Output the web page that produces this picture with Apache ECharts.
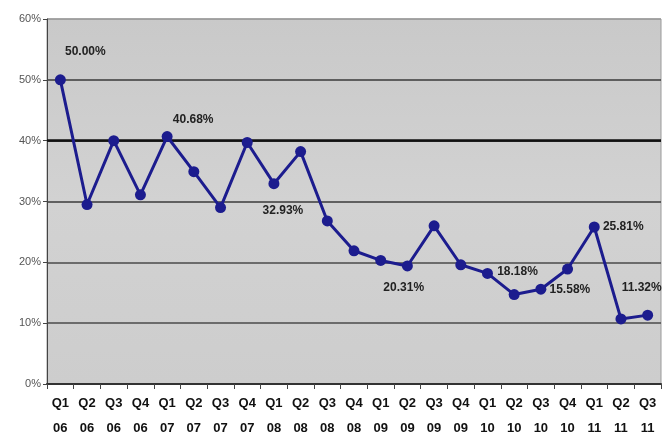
<!DOCTYPE html>
<html><head><meta charset="utf-8">
<script src="https://cdn.jsdelivr.net/npm/echarts@6/dist/echarts.min.js"></script>
<style>html,body{margin:0;padding:0;background:#fff}#c{width:664px;height:436px}</style>
</head><body><div id="c"></div>
<script>
const quarters = ['Q1','Q2','Q3','Q4','Q1','Q2','Q3','Q4','Q1','Q2','Q3','Q4','Q1','Q2','Q3','Q4','Q1','Q2','Q3','Q4','Q1','Q2','Q3'];
const years = ['06','06','06','06','07','07','07','07','08','08','08','08','09','09','09','09','10','10','10','10','11','11','11'];
const categories = quarters.map((q, i) => q + '\n' + years[i]);
const rates = [50.00, 29.5, 40.0, 31.1, 40.68, 34.9, 29.0, 39.7, 32.93, 38.2, 26.8, 21.9, 20.31, 19.4, 26.0, 19.6, 18.18, 14.7, 15.58, 18.9, 25.81, 10.7, 11.32];
const yTicks = [0, 10, 20, 30, 40, 50, 60];
const labelledPoints = [0, 4, 8, 12, 16, 18, 20, 22];

const offsets = {0:[25,-28], 4:[26,-17], 8:[9,27], 12:[23,27], 16:[30,-2], 18:[29,0], 20:[29,0], 22:[-6,-27]};
const data = rates.map((v, i) => {
  if (labelledPoints.indexOf(i) < 0) return v;
  return {value: v, label: {show: true, position: 'inside', offset: offsets[i],
    formatter: v.toFixed(2) + '%'}};
});

const chart = echarts.init(document.getElementById('c'));
chart.setOption({
  animation: false,
  grid: {left: 47, right: 3, top: 19, bottom: 52, show: true, containLabel: false, outerBoundsMode: 'none',
    backgroundColor: {type: 'linear', x: 0, y: 0, x2: 0, y2: 1,
      colorStops: [{offset: 0, color: '#c9c9c9'}, {offset: 0.5, color: '#d2d2d2'}, {offset: 1, color: '#cdcdcd'}]},
    borderColor: '#9a9a9a', borderWidth: 1},
  xAxis: {type: 'category', data: categories, boundaryGap: true,
    axisLine: {lineStyle: {color: '#333', width: 2}},
    axisTick: {show: true, length: 5, lineStyle: {color: '#444'}},
    axisLabel: {interval: 0, color: '#111', fontWeight: 'bold', fontSize: 13,
      fontFamily: 'Liberation Sans, Arial, sans-serif', lineHeight: 25, margin: 7}},
  yAxis: {type: 'value', min: yTicks[0], max: yTicks[yTicks.length - 1], interval: 10,
    axisLine: {show: true, lineStyle: {color: '#444', width: 1}},
    axisTick: {show: true, length: 4, lineStyle: {color: '#444'}},
    axisLabel: {formatter: '{value}%', color: '#555', fontSize: 11,
      fontFamily: 'Liberation Sans, sans-serif', margin: 6},
    splitLine: {lineStyle: {color: ['#3a3a3a', '#4a4a4a', '#4a4a4a', '#3a3a3a', '#111111', '#3a3a3a', '#9a9a9a'], width: 1.5}}},
  series: [{
    type: 'line', data: data,
    symbol: 'circle', symbolSize: 11,
    lineStyle: {color: '#1c1c8e', width: 3},
    itemStyle: {color: '#1c1c8e'},
    label: {color: '#222', fontWeight: 'bold', fontSize: 12,
      fontFamily: 'Liberation Sans, sans-serif'},
    markLine: {silent: true, symbol: 'none', label: {show: false},
      lineStyle: {color: '#111', width: 2.5, type: 'solid'},
      data: [{yAxis: yTicks[4]}], z: 1}
  }]
});
</script></body></html>
